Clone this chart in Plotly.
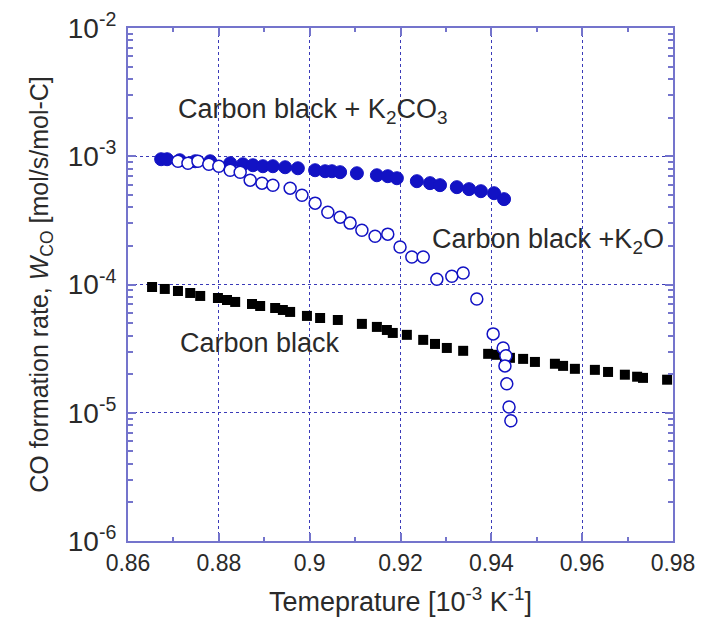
import math
import plotly.graph_objects as go

# Carbon black (filled black squares)
cb_x = [0.8653, 0.8681, 0.8710, 0.8737, 0.8759, 0.8798, 0.8818, 0.8836, 0.8873, 0.8891,
        0.8924, 0.8941, 0.8957, 0.8994, 0.9023, 0.9062, 0.9115, 0.9148, 0.9170, 0.9183,
        0.9214, 0.9250, 0.9276, 0.9302, 0.9338, 0.9393, 0.9412, 0.9430, 0.9441, 0.9470,
        0.9496, 0.9540, 0.9558, 0.9584, 0.9628, 0.9657, 0.9694, 0.9721, 0.9734, 0.9787]
cb_y = [9.56e-5, 9.23e-5, 8.90e-5, 8.59e-5, 8.14e-5, 7.85e-5, 7.57e-5, 7.31e-5, 7.05e-5, 6.80e-5,
        6.56e-5, 6.33e-5, 6.11e-5, 5.69e-5, 5.48e-5, 5.29e-5, 4.93e-5, 4.67e-5, 4.42e-5, 4.19e-5,
        4.05e-5, 3.70e-5, 3.44e-5, 3.20e-5, 3.04e-5, 2.88e-5, 2.83e-5, 2.68e-5, 2.68e-5, 2.63e-5,
        2.49e-5, 2.41e-5, 2.32e-5, 2.20e-5, 2.16e-5, 2.08e-5, 1.98e-5, 1.91e-5, 1.87e-5, 1.81e-5]

# Carbon black + K2CO3 (filled blue circles)
k2co3_x = [0.8673, 0.8686, 0.8714, 0.8748, 0.8781, 0.8825, 0.8853, 0.8875, 0.8897, 0.8919,
           0.8946, 0.8974, 0.9012, 0.9034, 0.9049, 0.9067, 0.9104, 0.9148, 0.9172, 0.9192,
           0.9236, 0.9265, 0.9287, 0.9324, 0.9351, 0.9377, 0.9406, 0.9428]
k2co3_y = [9.48e-4, 9.48e-4, 9.31e-4, 9.14e-4, 9.14e-4, 8.82e-4, 8.66e-4, 8.51e-4, 8.36e-4, 8.36e-4,
           8.21e-4, 8.06e-4, 7.78e-4, 7.64e-4, 7.64e-4, 7.51e-4, 7.37e-4, 7.11e-4, 6.99e-4, 6.74e-4,
           6.39e-4, 6.17e-4, 5.95e-4, 5.74e-4, 5.54e-4, 5.34e-4, 5.15e-4, 4.63e-4]

# Carbon black + K2O (open blue circles)
k2o_x = [0.8710, 0.8732, 0.8754, 0.8778, 0.8800, 0.8825, 0.8847, 0.8869, 0.8895, 0.8919,
         0.8957, 0.8983, 0.9012, 0.9040, 0.9067, 0.9089, 0.9115, 0.9144, 0.9172, 0.9199,
         0.9225, 0.9250, 0.9280, 0.9313, 0.9338, 0.9368, 0.9404, 0.9426, 0.9432, 0.9430,
         0.9434, 0.9439, 0.9443]
k2o_y = [9.14e-4, 8.82e-4, 9.14e-4, 8.66e-4, 8.36e-4, 7.78e-4, 7.51e-4, 6.51e-4, 6.17e-4, 5.95e-4,
         5.64e-4, 4.97e-4, 4.31e-4, 3.66e-4, 3.35e-4, 3.01e-4, 2.65e-4, 2.38e-4, 2.47e-4, 1.96e-4,
         1.64e-4, 1.64e-4, 1.10e-4, 1.16e-4, 1.23e-4, 7.71e-5, 4.12e-5, 3.20e-5, 2.78e-5, 2.32e-5,
         1.68e-5, 1.11e-5, 8.66e-6]

x_ticks = [0.86, 0.88, 0.90, 0.92, 0.94, 0.96, 0.98]
x_ticklabels = ["0.86", "0.88", "0.9", "0.92", "0.94", "0.96", "0.98"]
y_exps = [-6, -5, -4, -3, -2]
y_ticks = [10.0 ** e for e in y_exps]
y_ticklabels = ["10<sup>%d</sup>" % e for e in y_exps]
y_minor = [m * 10.0 ** e for e in y_exps[:-1] for m in range(2, 10)]

# annotation labels (text, x, y in data units)
labels = [
    ("Carbon black + K<sub>2</sub>CO<sub>3</sub>", 0.8706, 2.25e-3),
    ("Carbon black +K<sub>2</sub>O", 0.9266, 2.2e-4),
    ("Carbon black", 0.8710, 3.5e-5),
]

FONT = "Liberation Sans, Arial, sans-serif"
TXT = "#2a2a2a"
BLUE = "#1212c4"
AXC = "#7474cc"
GRIDC = "#3a3ab8"

fig = go.Figure()
fig.add_trace(go.Scatter(x=cb_x, y=cb_y, mode="markers",
                         marker=dict(symbol="square", size=10, color="black"),
                         name="Carbon black"))
fig.add_trace(go.Scatter(x=k2co3_x, y=k2co3_y, mode="markers",
                         marker=dict(symbol="circle", size=13, color=BLUE,
                                     line=dict(color=BLUE, width=1)),
                         name="Carbon black + K2CO3"))
fig.add_trace(go.Scatter(x=k2o_x, y=k2o_y, mode="markers",
                         marker=dict(symbol="circle", size=12, color="white",
                                     line=dict(color=BLUE, width=1.5)),
                         name="Carbon black + K2O"))

ann_font = dict(family=FONT, size=27, color=TXT)
for txt, ax, ay in labels:
    fig.add_annotation(x=ax, y=math.log10(ay), xref="x", yref="y",
                       xanchor="left", yanchor="middle",
                       text=txt, showarrow=False, font=ann_font)

fig.update_layout(
    width=701, height=621,
    margin=dict(l=128, r=28, t=28, b=80, autoexpand=False),
    paper_bgcolor="white", plot_bgcolor="white",
    showlegend=False,
    font=dict(family=FONT, color=TXT, size=22),
    xaxis=dict(
        range=[0.86, 0.98], tickmode="array", tickvals=x_ticks, ticktext=x_ticklabels,
        automargin=False, ticklabeloverflow="allow",
        showline=True, linecolor=AXC, linewidth=2, mirror="ticks",
        ticks="inside", ticklen=8, tickcolor=AXC, tickwidth=1.5,
        showgrid=True, gridcolor=GRIDC, griddash="dot", gridwidth=1,
        zeroline=False,
        minor=dict(dtick=0.01, tick0=0.86, ticks="inside", ticklen=4, tickcolor=AXC, showgrid=False),
        tickfont=dict(size=23, color=TXT, family=FONT),
        title=dict(text="Temeprature [10<sup>-3</sup> K<sup>-1</sup>]", standoff=18,
                   font=dict(size=27, color=TXT, family=FONT)),
    ),
    yaxis=dict(
        type="log", range=[-6, -2], tickmode="array", tickvals=y_ticks, ticktext=y_ticklabels,
        automargin=False, ticklabeloverflow="allow",
        showline=True, linecolor=AXC, linewidth=2, mirror="ticks",
        ticks="inside", ticklen=8, tickcolor=AXC, tickwidth=1.5,
        showgrid=True, gridcolor=GRIDC, griddash="dot", gridwidth=1,
        zeroline=False,
        ticklabelstandoff=4,
        minor=dict(tickmode="array", tickvals=y_minor, ticks="inside", ticklen=5,
                   tickcolor=AXC, showgrid=False),
        tickfont=dict(size=28, color=TXT, family=FONT),
        title=dict(text="CO formation rate, <i>W</i><sub>CO</sub> [mol/s/mol-C]", standoff=12,
                   font=dict(size=25, color=TXT, family=FONT)),
    ),
)

fig.write_html(
    "out.html",
    config={"displayModeBar": False},
    post_script="document.body.style.margin='0px';document.body.style.overflow='hidden';",
)
